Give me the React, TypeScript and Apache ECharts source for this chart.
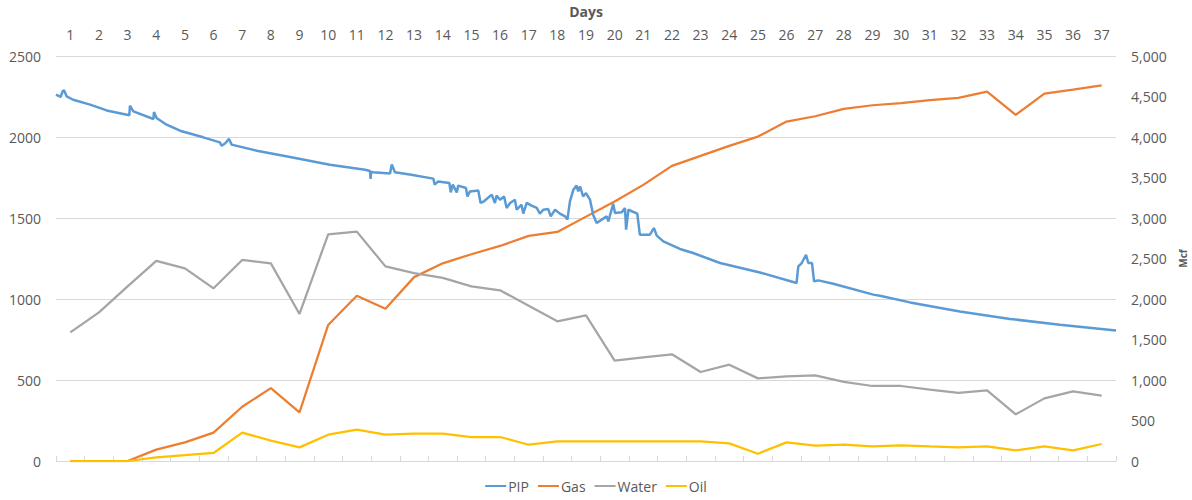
import React, { useEffect, useRef } from "react";
import * as echarts from "echarts";

const days: string[] = Array.from({ length: 37 }, (_, i) => String(i + 1));

const gas: number[] = [
  0, 0, 0, 140, 230, 350, 670, 900, 600, 1680, 2040, 1880, 2270, 2440, 2553, 2655, 2779, 2828, 3017,
  3203, 3409, 3643, 3767, 3890, 4005, 4190, 4256, 4347, 4392, 4417, 4454, 4483, 4561, 4273, 4536, 4585, 4638,
];

const water: number[] = [
  1588, 1835, 2156, 2470, 2379, 2132, 2482, 2440, 1815, 2799, 2832, 2403, 2320, 2260, 2156, 2107, 1918, 1724, 1798,
  1239, 1279, 1317, 1099, 1189, 1020, 1045, 1057, 976, 926, 926, 880, 840, 872, 576, 773, 860, 806,
];

const oil: number[] = [
  0, 0, 0, 45, 74, 99, 350, 251, 168, 325, 387, 325, 337, 337, 296, 296, 201, 242, 242,
  242, 242, 242, 242, 217, 90, 230, 189, 201, 180, 193, 180, 168, 180, 131, 180, 131, 210,
];

// PIP: [elapsed days, psi]
const pip: [number, number][] = [
  [0, 2261], [0.16, 2247], [0.23, 2282], [0.28, 2288], [0.37, 2251], [0.6, 2230], [1.19, 2200], [1.77, 2164],
  [2.56, 2134], [2.58, 2193], [2.7, 2158], [3.4, 2111], [3.42, 2154], [3.51, 2117], [3.86, 2076], [4.33, 2039],
  [5.14, 1998], [5.72, 1967], [5.78, 1946], [5.9, 1960], [6.04, 1988], [6.13, 1953], [7.01, 1915], [8.17, 1877],
  [9.56, 1829], [10.79, 1798], [10.96, 1790], [10.98, 1741], [11.0, 1784], [11.07, 1782], [11.66, 1775],
  [11.72, 1831], [11.83, 1782], [12.4, 1767], [13.17, 1743], [13.22, 1706], [13.34, 1726], [13.73, 1716],
  [13.78, 1658], [13.85, 1706], [13.99, 1658], [14.04, 1700], [14.31, 1685], [14.36, 1633], [14.45, 1664],
  [14.74, 1670], [14.82, 1593], [14.94, 1603], [15.21, 1644], [15.32, 1593], [15.38, 1638], [15.5, 1613],
  [15.64, 1633], [15.73, 1562], [15.85, 1593], [16.02, 1613], [16.08, 1551], [16.25, 1582], [16.31, 1527],
  [16.43, 1593], [16.6, 1576], [16.78, 1562], [16.89, 1527], [17.01, 1551], [17.18, 1555], [17.27, 1510],
  [17.42, 1551], [17.59, 1527], [17.77, 1510], [17.85, 1490], [17.94, 1603], [18.06, 1675], [18.17, 1700],
  [18.23, 1664], [18.29, 1695], [18.4, 1633], [18.5, 1654], [18.64, 1613], [18.75, 1520], [18.87, 1469],
  [19.05, 1490], [19.22, 1510], [19.28, 1479], [19.45, 1588], [19.51, 1531], [19.75, 1535], [19.86, 1562],
  [19.9, 1428], [19.98, 1551], [20.29, 1527], [20.38, 1397], [20.73, 1397], [20.87, 1438], [20.97, 1391],
  [21.2, 1356], [21.78, 1309], [22.24, 1284], [23.18, 1222], [24.57, 1164], [25.85, 1099], [25.91, 1201],
  [26.03, 1222], [26.18, 1273], [26.26, 1222], [26.39, 1222], [26.46, 1109], [26.61, 1115], [27.13, 1094],
  [28.53, 1027], [28.76, 1020], [29.81, 979], [31.55, 923], [33.3, 877], [35.04, 841], [37, 806],
];

const FONT = "'Open Sans', 'Noto Sans', sans-serif";
const TXT = "#595959";
const GRID = "#d9d9d9";

export default function App() {
  const ref = useRef<HTMLDivElement>(null);
  useEffect(() => {
    if (!ref.current) return;
    const chart = echarts.init(ref.current, undefined, { renderer: "svg" });
    chart.setOption({
      animation: false,
      textStyle: { fontFamily: FONT },
      grid: { left: 56, right: 76, top: 56, bottom: 39, containLabel: false, outerBoundsMode: "none" },
      legend: {
        bottom: 2,
        left: "center",
        itemWidth: 21,
        itemHeight: 2,
        itemGap: 9,
        icon: "rect",
        textStyle: { color: TXT, fontSize: 14, fontFamily: FONT, padding: [0, 0, 0, -3] },
        data: ["PIP", "Gas", "Water", "Oil"],
      },
      xAxis: [
        {
          type: "category",
          position: "top",
          data: days,
          boundaryGap: true,
          name: "Days",
          nameLocation: "middle",
          nameGap: 38,
          nameTextStyle: { color: TXT, fontSize: 14, fontWeight: "bold", fontFamily: FONT },
          axisLine: { lineStyle: { color: GRID, width: 1 } },
          axisTick: { show: true, length: 5, interval: 0, lineStyle: { color: GRID } },
          axisLabel: { color: TXT, fontSize: 14, interval: 0, margin: 15, fontFamily: FONT },
          splitLine: { show: false },
        },
        { type: "value", position: "bottom", min: 0, max: 37, show: false },
      ],
      yAxis: [
        {
          type: "value",
          position: "left",
          min: 0,
          max: 2500,
          interval: 500,
          axisLine: { show: false },
          axisTick: { show: false },
          axisLabel: { color: TXT, fontSize: 14, margin: 15, fontFamily: FONT, formatter: (v: number) => String(v) },
          splitLine: { show: true, lineStyle: { color: GRID, width: 1 } },
        },
        {
          type: "value",
          position: "right",
          min: 0,
          max: 5000,
          interval: 500,
          name: "Mcf",
          nameLocation: "middle",
          nameGap: 62,
          nameRotate: 90,
          nameTextStyle: { color: TXT, fontSize: 10, fontWeight: "bold", fontFamily: FONT },
          axisLine: { show: false },
          axisTick: { show: false },
          axisLabel: {
            color: TXT,
            fontSize: 14,
            margin: 15,
            fontFamily: FONT,
            formatter: (v: number) => v.toLocaleString("en-US"),
          },
          splitLine: { show: false },
        },
      ],
      series: [
        {
          name: "PIP",
          type: "line",
          xAxisIndex: 1,
          yAxisIndex: 0,
          data: pip,
          symbol: "none",
          lineStyle: { color: "#5B9BD5", width: 2.5 },
          itemStyle: { color: "#5B9BD5" },
          z: 5,
        },
        {
          name: "Gas",
          type: "line",
          xAxisIndex: 0,
          yAxisIndex: 1,
          data: gas,
          symbol: "none",
          lineStyle: { color: "#ED7D31", width: 2.25 },
          itemStyle: { color: "#ED7D31" },
        },
        {
          name: "Water",
          type: "line",
          xAxisIndex: 0,
          yAxisIndex: 1,
          data: water,
          symbol: "none",
          lineStyle: { color: "#A5A5A5", width: 2.25 },
          itemStyle: { color: "#A5A5A5" },
        },
        {
          name: "Oil",
          type: "line",
          xAxisIndex: 0,
          yAxisIndex: 1,
          data: oil,
          symbol: "none",
          lineStyle: { color: "#FFC000", width: 2.25 },
          itemStyle: { color: "#FFC000" },
        },
      ],
    });
    return () => chart.dispose();
  }, []);
  return <div ref={ref} style={{ width: 1192, height: 500, position: "absolute", left: 0, top: 0 }} />;
}
